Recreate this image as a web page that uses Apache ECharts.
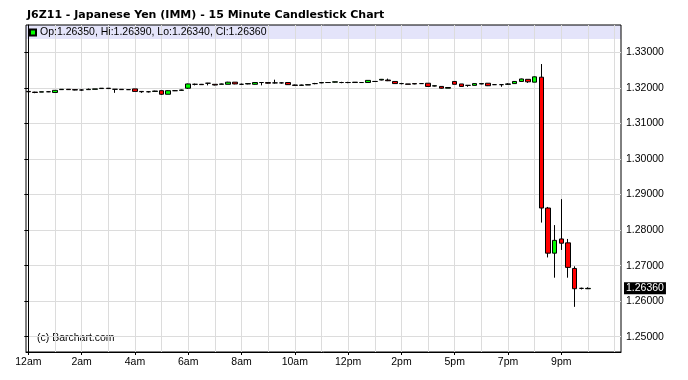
<!DOCTYPE html>
<html><head><meta charset="utf-8">
<script src="https://cdn.jsdelivr.net/npm/echarts@6/dist/echarts.min.js"></script>
<style>html,body{margin:0;padding:0;background:#fff}#c{width:688px;height:380px}</style>
</head><body><div id="c"></div>
<script>
const times = [
 '12:00am','12:15am','12:30am','12:45am','1:00am','1:15am','1:30am','1:45am',
 '2:00am','2:15am','2:30am','2:45am','3:00am','3:15am','3:30am','3:45am',
 '4:00am','4:15am','4:30am','4:45am','5:00am','5:15am','5:30am','5:45am',
 '6:00am','6:15am','6:30am','6:45am','7:00am','7:15am','7:30am','7:45am',
 '8:00am','8:15am','8:30am','8:45am','9:00am','9:15am','9:30am','9:45am',
 '10:00am','10:15am','10:30am','10:45am','11:00am','11:15am','11:30am','11:45am',
 '12:00pm','12:15pm','12:30pm','12:45pm','1:00pm','1:15pm','1:30pm','1:45pm',
 '2:00pm','2:15pm','2:30pm','2:45pm','3:00pm','3:15pm','3:30pm','3:45pm',
 '5:00pm','5:15pm','5:30pm','5:45pm','6:00pm','6:15pm','6:30pm','6:45pm',
 '7:00pm','7:15pm','7:30pm','7:45pm','8:00pm','8:15pm','8:30pm','8:45pm',
 '9:00pm','9:15pm','9:30pm','9:45pm','10:00pm'
];
const opens = [
 1.3190,1.3188,1.3188,1.3189,1.3187,1.3195,1.3196,1.3195,
 1.3194,1.3195,1.3196,1.3198,1.3199,1.3196,1.3196,1.3195,
 1.3197,1.3190,1.3189,1.3190,1.3192,1.3182,1.3192,1.3193,
 1.3199,1.3210,1.3210,1.3213,1.3210,1.3210,1.3210,1.3216,
 1.3210,1.3211,1.3210,1.3215,1.3215,1.3214,1.3214,1.3215,
 1.3208,1.3207,1.3208,1.3212,1.3214,1.3215,1.3216,1.3215,
 1.3215,1.3215,1.3215,1.3215,1.3218,1.3222,1.3222,1.3218,
 1.3212,1.3211,1.3212,1.3212,1.3213,1.3205,1.3204,1.3199,
 1.3218,1.3211,1.3207,1.3207,1.3211,1.3213,1.3209,1.3209,
 1.3210,1.3212,1.3218,1.3224,1.3216,1.3230,1.2862,1.2735,
 1.2775,1.2764,1.2692,1.2636,1.2635
];
const highs = [
 1.3191,1.3189,1.3189,1.3190,1.3193,1.3196,1.3196,1.3196,
 1.3196,1.3198,1.3197,1.3199,1.3199,1.3196,1.3196,1.3196,
 1.3197,1.3191,1.3191,1.3192,1.3192,1.3193,1.3193,1.3195,
 1.3212,1.3212,1.3211,1.3214,1.3210,1.3212,1.3217,1.3216,
 1.3212,1.3213,1.3216,1.3216,1.3215,1.3223,1.3216,1.3215,
 1.3209,1.3209,1.3210,1.3214,1.3216,1.3215,1.3217,1.3217,
 1.3217,1.3216,1.3215,1.3221,1.3219,1.3225,1.3226,1.3218,
 1.3214,1.3211,1.3212,1.3213,1.3213,1.3207,1.3204,1.3202,
 1.3218,1.3211,1.3208,1.3212,1.3212,1.3213,1.3210,1.3209,
 1.3213,1.3219,1.3226,1.3224,1.3232,1.3267,1.2865,1.2814,
 1.2887,1.2775,1.2698,1.2638,1.2639
];
const lows = [
 1.3188,1.3185,1.3188,1.3188,1.3187,1.3194,1.3194,1.3193,
 1.3192,1.3194,1.3196,1.3197,1.3197,1.3186,1.3195,1.3195,
 1.3190,1.3186,1.3187,1.3189,1.3180,1.3182,1.3191,1.3192,
 1.3197,1.3207,1.3209,1.3207,1.3207,1.3210,1.3210,1.3210,
 1.3208,1.3210,1.3209,1.3207,1.3212,1.3212,1.3212,1.3208,
 1.3206,1.3206,1.3208,1.3210,1.3213,1.3215,1.3215,1.3213,
 1.3213,1.3215,1.3214,1.3215,1.3218,1.3221,1.3219,1.3211,
 1.3210,1.3210,1.3210,1.3211,1.3203,1.3204,1.3198,1.3199,
 1.3210,1.3203,1.3203,1.3207,1.3210,1.3205,1.3208,1.3203,
 1.3208,1.3212,1.3218,1.3214,1.3216,1.2821,1.2723,1.2666,
 1.2744,1.2666,1.2584,1.2633,1.2634
];
const closes = [
 1.3189,1.3187,1.3189,1.3189,1.3193,1.3196,1.3195,1.3194,
 1.3194,1.3196,1.3197,1.3199,1.3198,1.3196,1.3195,1.3195,
 1.3190,1.3189,1.3189,1.3191,1.3182,1.3192,1.3192,1.3194,
 1.3211,1.3210,1.3209,1.3213,1.3208,1.3211,1.3216,1.3211,
 1.3210,1.3212,1.3215,1.3215,1.3213,1.3214,1.3214,1.3209,
 1.3207,1.3208,1.3209,1.3212,1.3215,1.3215,1.3217,1.3215,
 1.3215,1.3216,1.3215,1.3221,1.3218,1.3224,1.3220,1.3212,
 1.3212,1.3210,1.3211,1.3212,1.3204,1.3206,1.3199,1.3201,
 1.3210,1.3204,1.3207,1.3212,1.3212,1.3206,1.3209,1.3209,
 1.3211,1.3218,1.3225,1.3217,1.3231,1.2862,1.2735,1.2771,
 1.2763,1.2695,1.2635,1.2636,1.2636
];
const tickTimes = ['12:00am','2:00am','4:00am','6:00am','8:00am','10:00am','12:00pm','2:00pm','5:00pm','7:00pm','9:00pm'];
const tickLabels = ['12am','2am','4am','6am','8am','10am','12pm','2pm','5pm','7pm','9pm'];
const yTicks = [1.25,1.26,1.27,1.28,1.29,1.30,1.31,1.32,1.33];
const symbolName = 'J6Z11';
const titleText = 'J6Z11 - Japanese Yen (IMM) - 15 Minute Candlestick Chart';

const last = times.length - 1;
const tickIdx = tickTimes.map(t => times.indexOf(t));
const hourIdx = [];
for (let i = 0; i <= 88; i += 4) hourIdx.push(i);
const data = times.map((t, i) => [i, opens[i], closes[i], lows[i], highs[i]]);
const f5 = v => v.toFixed(5);
const infoText = 'Op:' + f5(opens[last]) + ', Hi:' + f5(highs[last]) + ', Lo:' + f5(lows[last]) + ', Cl:' + f5(closes[last]);

const FONT = 'Liberation Sans';
const chart = echarts.init(document.getElementById('c'), null, {renderer: 'canvas'});
chart.setOption({
  animation: false,
  backgroundColor: '#fff',
  grid: {left: 26, right: 67, top: 25, bottom: 28, show: true, borderColor: '#000', borderWidth: 1, backgroundColor: 'transparent'},
  legend: {
    show: true, left: 29, top: 27, padding: 0, itemWidth: 6, itemHeight: 6, icon: 'rect',
    data: [symbolName], formatter: () => infoText, itemGap: 4,
    textStyle: {fontFamily: FONT, fontSize: 10.5, color: '#000', padding: [0, 0, 0, -1]},
    selectedMode: false
  },
  xAxis: [{
    type: 'value', min: -0.35, max: 88.96,
    axisLine: {show: true, lineStyle: {color: '#000'}},
    axisTick: {show: false, customValues: hourIdx},
    splitLine: {show: true, lineStyle: {color: '#dcdcdc', width: 1}},
    axisLabel: {customValues: tickIdx, formatter: v => tickLabels[tickIdx.indexOf(Math.round(v))] || '',
      fontFamily: FONT, fontSize: 10.5, color: '#000', margin: 5}
  }, {
    type: 'value', min: -0.35, max: 88.96, position: 'bottom',
    axisLine: {show: false},
    axisTick: {show: true, customValues: tickIdx, length: 3, lineStyle: {color: '#000'}},
    axisLabel: {show: false}, splitLine: {show: false}
  }],
  yAxis: {
    type: 'value', position: 'right', min: 1.2457, max: 1.33768,
    axisLine: {show: true, lineStyle: {color: '#000'}},
    axisTick: {show: true, inside: true, length: 4, customValues: yTicks, lineStyle: {color: '#000'}},
    axisLabel: {customValues: yTicks, formatter: v => v.toFixed(5), margin: 5, fontFamily: FONT, fontSize: 10.5, color: '#000', hideOverlap: false},
    splitLine: {show: true, lineStyle: {color: '#dcdcdc', width: 1}}
  },
  graphic: [
    {type: 'rect', z: -1, shape: {x: 26, y: 25, width: 595, height: 14}, style: {fill: '#e4e4fa'}, silent: true},
    {type: 'text', style: {x: 27, y: 15, text: titleText, font: 'bold 11px "DejaVu Sans"', fill: '#000', verticalAlign: 'middle', textVerticalAlign: 'middle'}},
    {type: 'text', style: {x: 37, y: 338, text: '(c) Barchart.com', font: '10.5px "Liberation Sans"', fill: '#000', verticalAlign: 'middle', textVerticalAlign: 'middle'}}
  ],
  series: [{
    name: symbolName, type: 'candlestick', data: data,
    encode: {x: 0, y: [1, 2, 3, 4]},
    barWidth: 5,
    itemStyle: {color: '#00ff00', color0: '#ff0000', borderColor: '#000', borderColor0: '#000', borderWidth: 1},
    markLine: {
      silent: true, symbol: 'none', animation: false, precision: 5,
      lineStyle: {color: 'rgba(0,0,0,0)', width: 0},
      data: [{yAxis: closes[last]}],
      label: {show: true, position: 'end', distance: 3, formatter: p => f5(p.value),
        backgroundColor: '#000', color: '#fff', padding: [1, 2, 0, 2], fontFamily: FONT, fontSize: 10.5}
    }
  }]
});
</script></body></html>
